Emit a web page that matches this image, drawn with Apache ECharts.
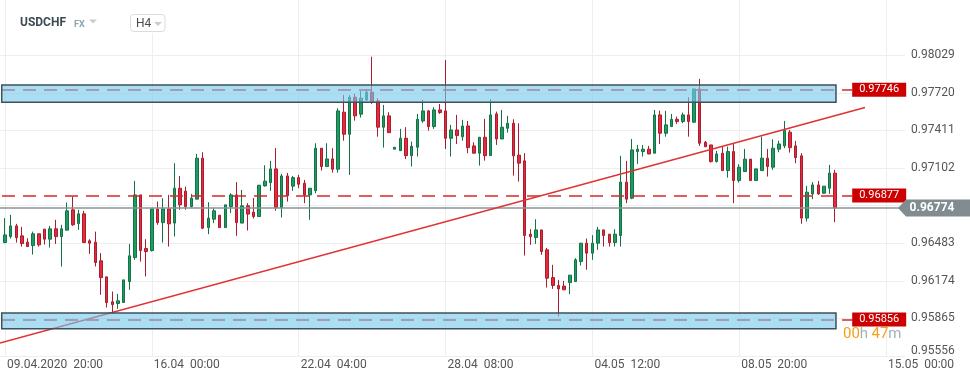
<!DOCTYPE html>
<html><head><meta charset="utf-8">
<script src="https://cdn.jsdelivr.net/npm/echarts@6/dist/echarts.min.js"></script>
<style>html,body{margin:0;padding:0;background:#fff}#c{width:970px;height:381px}</style>
</head><body><div id="c"></div><script>
// ---- data (H4 candles, USDCHF) ----
const opens = [0.96489,0.96538,0.96626,0.96544,0.96492,0.96464,0.96561,0.96599,0.96517,0.96602,
0.96538,0.96591,0.96758,0.96645,0.96725,0.96503,0.96492,0.96339,0.96207,0.96002,
0.95988,0.95996,0.96168,0.96366,0.96881,0.96440,0.96423,0.96766,0.96653,0.96766,
0.96649,0.96936,0.96912,0.96785,0.96846,0.97183,0.96612,0.96681,0.96714,0.96612,
0.96785,0.96881,0.96649,0.96791,0.96739,0.96703,0.96955,0.96982,0.97095,0.96777,
0.97037,0.96953,0.97023,0.96977,0.96881,0.96916,0.97265,0.97114,0.97177,0.97092,
0.97561,0.97380,0.97684,0.97545,0.97662,0.97725,0.97654,0.97438,0.97531,0.97257,
0.97245,0.97347,0.97204,0.97273,0.97489,0.97572,0.97443,0.97580,0.97572,0.97347,
0.97415,0.97360,0.97448,0.97284,0.97224,0.97355,0.97204,0.97547,0.97341,0.97429,
0.97470,0.97208,0.97161,0.96558,0.96530,0.96593,0.96429,0.96201,0.96136,0.96131,
0.96160,0.96168,0.96333,0.96484,0.96402,0.96484,0.96593,0.96558,0.96489,0.96547,
0.96986,0.96854,0.97237,0.97237,0.97257,0.97224,0.97539,0.97388,0.97443,0.97503,
0.97484,0.97539,0.97479,0.97752,0.97314,0.97292,0.97155,0.97224,0.97081,0.97237,
0.96999,0.97073,0.97175,0.96999,0.97081,0.97183,0.97109,0.97257,0.97284,0.97397,
0.97284,0.97202,0.96690,0.96889,0.96963,0.96895,0.96936,0.97060];
const closes = [0.96552,0.96626,0.96530,0.96481,0.96456,0.96561,0.96470,0.96517,0.96602,0.96538,
0.96602,0.96750,0.96635,0.96725,0.96489,0.96484,0.96325,0.96201,0.95996,0.95979,
0.96010,0.96182,0.96380,0.96881,0.96423,0.96415,0.96766,0.96653,0.96766,0.96643,
0.96936,0.96799,0.96785,0.96854,0.97183,0.96607,0.96690,0.96750,0.96612,0.96799,
0.96881,0.96653,0.96791,0.96723,0.96703,0.96961,0.96994,0.97095,0.96777,0.97037,
0.96875,0.97023,0.96969,0.96881,0.96936,0.97265,0.97114,0.97177,0.97092,0.97572,
0.97380,0.97684,0.97531,0.97676,0.97725,0.97643,0.97438,0.97531,0.97393,0.97273,
0.97347,0.97204,0.97281,0.97503,0.97572,0.97443,0.97580,0.97558,0.97347,0.97415,
0.97369,0.97448,0.97270,0.97224,0.97355,0.97204,0.97539,0.97341,0.97438,0.97470,
0.97202,0.97142,0.96547,0.96538,0.96593,0.96415,0.96196,0.96136,0.96108,0.96100,
0.96221,0.96347,0.96484,0.96402,0.96484,0.96593,0.96547,0.96489,0.96558,0.96986,
0.96846,0.97251,0.97257,0.97257,0.97218,0.97539,0.97388,0.97457,0.97503,0.97484,
0.97539,0.97484,0.97752,0.97306,0.97278,0.97155,0.97218,0.97081,0.97237,0.96999,
0.97109,0.97175,0.96999,0.97095,0.97183,0.97114,0.97265,0.97300,0.97410,0.97270,
0.97188,0.96690,0.96903,0.96963,0.96889,0.96953,0.97060,0.96774];
const highs = [0.96690,0.96717,0.96643,0.96618,0.96525,0.96579,0.96561,0.96602,0.96626,0.96676,
0.96635,0.96818,0.96867,0.96758,0.96750,0.96517,0.96579,0.96402,0.96207,0.96086,
0.96067,0.96182,0.96478,0.96996,0.96881,0.96517,0.96766,0.96826,0.96854,0.96881,
0.97142,0.97037,0.96949,0.96889,0.97218,0.97232,0.96821,0.96772,0.96714,0.96799,
0.96895,0.96986,0.96922,0.96813,0.96856,0.96961,0.97125,0.97161,0.97267,0.97054,
0.97062,0.97037,0.97046,0.97004,0.96936,0.97306,0.97265,0.97306,0.97265,0.97594,
0.97703,0.97703,0.97711,0.97736,0.97752,0.98018,0.97676,0.97621,0.97561,0.97273,
0.97424,0.97438,0.97319,0.97547,0.97662,0.97580,0.97602,0.97629,0.97991,0.97457,
0.97539,0.97498,0.97489,0.97314,0.97355,0.97506,0.97668,0.97566,0.97580,0.97531,
0.97503,0.97470,0.97224,0.96599,0.96681,0.96593,0.96445,0.96306,0.96182,0.96174,
0.96221,0.96361,0.96484,0.96522,0.96550,0.96618,0.96593,0.96558,0.96599,0.97202,
0.97161,0.97341,0.97292,0.97292,0.97284,0.97580,0.97574,0.97572,0.97547,0.97525,
0.97558,0.97684,0.97752,0.97835,0.97325,0.97292,0.97243,0.97278,0.97278,0.97300,
0.97134,0.97259,0.97175,0.97095,0.97360,0.97259,0.97339,0.97327,0.97489,0.97415,
0.97325,0.97224,0.96955,0.96986,0.96996,0.96953,0.97128,0.97087];
const lows = [0.96484,0.96522,0.96489,0.96456,0.96456,0.96390,0.96456,0.96473,0.96448,0.96478,
0.96292,0.96591,0.96626,0.96593,0.96489,0.96396,0.96292,0.96059,0.95955,0.95903,
0.95944,0.95996,0.96100,0.96347,0.96333,0.96210,0.96415,0.96635,0.96489,0.96456,
0.96538,0.96758,0.96758,0.96777,0.96846,0.96599,0.96558,0.96649,0.96612,0.96612,
0.96731,0.96544,0.96649,0.96588,0.96686,0.96703,0.96949,0.96914,0.96750,0.96695,
0.96826,0.96914,0.96936,0.96813,0.96676,0.96895,0.97081,0.97114,0.97064,0.97064,
0.97327,0.97046,0.97492,0.97517,0.97656,0.97629,0.97360,0.97270,0.97393,0.97257,
0.97245,0.97175,0.97114,0.97196,0.97475,0.97410,0.97424,0.97547,0.97259,0.97196,
0.97300,0.97327,0.97224,0.97224,0.97122,0.97163,0.97204,0.97292,0.97341,0.97393,
0.97040,0.96990,0.96382,0.96470,0.96478,0.96388,0.96119,0.96108,0.95881,0.96100,
0.96065,0.96168,0.96300,0.96265,0.96347,0.96429,0.96456,0.96456,0.96456,0.96456,
0.96813,0.96846,0.97136,0.97196,0.97216,0.97224,0.97300,0.97360,0.97443,0.97465,
0.97470,0.97360,0.97475,0.97284,0.97273,0.97147,0.97147,0.97081,0.97023,0.96813,
0.96982,0.97073,0.96999,0.96999,0.97081,0.97032,0.97087,0.97232,0.97265,0.97229,
0.97142,0.96643,0.96662,0.96846,0.96881,0.96889,0.96889,0.96657];
const xTickIndex = [0, 26, 52, 78, 104, 130, 156];
const xTickLabels = ['09.04.2020  20:00','16.04  00:00','22.04  04:00','28.04  08:00','04.05  12:00','08.05  20:00','15.05  00:00'];
const yTicks = [0.95556, 0.958651, 0.961743, 0.964834, 0.967925, 0.971016, 0.974108, 0.977199, 0.98029];
const yLabelTicks = [0.95556, 0.958651, 0.961743, 0.964834, 0.971016, 0.974108, 0.977199, 0.98029];
const lastPrice = 0.96774;
const levelLines = [0.97746, 0.96877, 0.95856];
const bands = [[0.97785, 0.97643], [0.95909, 0.95780]];
const trendLine = [[-0.885, 0.95663], [152.27, 0.97600]];

// ---- layout constants ----
const X_MIN = -0.885, X_MAX = 159.35;
const Y_MIN = 0.95556, Y_MAX = 0.98484;

const candles = opens.map((o, i) => [i, o, closes[i], lows[i], highs[i]]);
const FONT = 'Roboto';

const chart = echarts.init(document.getElementById('c'), null, {renderer: 'canvas'});
chart.setOption({
  animation: false,
  textStyle: {fontFamily: FONT},
  grid: {left: 0, right: 65, top: 0, bottom: 25, containLabel: false, outerBoundsMode: 'none'},
  xAxis: {
    type: 'value', min: X_MIN, max: X_MAX,
    axisLine: {show: false}, axisTick: {show: false, customValues: xTickIndex},
    splitLine: {show: true, lineStyle: {color: '#eeeeee', width: 1}},
    axisLabel: {
      customValues: xTickIndex, align: 'left', margin: 3, padding: [0, 0, 0, 2],
      color: '#555', fontSize: 12, fontFamily: FONT,
      formatter: v => xTickLabels[xTickIndex.indexOf(v)] || ''
    }
  },
  yAxis: {
    type: 'value', position: 'right', min: Y_MIN, max: Y_MAX,
    axisLine: {show: false}, axisTick: {show: false, customValues: yTicks},
    splitLine: {show: true, lineStyle: {color: '#eeeeee', width: 1}},
    axisLabel: {
      customValues: yLabelTicks, margin: 6, color: '#555', fontSize: 12, fontFamily: FONT,
      formatter: v => Math.abs(v - yTicks[0]) < 1e-7 ? '{b|' + v.toFixed(5) + '}' : v.toFixed(5),
      rich: {b: {padding: [0, 0, 10, 0], color: '#555', fontSize: 12, fontFamily: FONT}}
    }
  },
  series: [
    {
      type: 'candlestick', z: 2, barWidth: 3, data: candles,
      encode: {x: 0, y: [1, 2, 3, 4]},
      itemStyle: {color: '#1e9b63', color0: '#e32b3d', borderColor: '#137347', borderColor0: '#a91d2c', borderWidth: 1}
    },
    {
      type: 'line', z: 3, data: [], silent: true,
      markLine: {
        z: 4, silent: true, animation: false, symbol: ['none', 'none'],
        data: [
          ...levelLines.map(v => [
            {coord: [-0.53, v], lineStyle: {color: '#d42a2a', width: 1.5, type: [13, 8]},
             label: {show: true, position: 'end', distance: 0, formatter: v.toFixed(5), backgroundColor: '#cc0000',
                     color: '#fff', padding: [2, 7, 1, 7], fontSize: 11, fontFamily: FONT}},
            {coord: [150, v]}
          ]),
          [{coord: [X_MIN, lastPrice], lineStyle: {color: '#86939a', width: 1.5, type: 'solid'}, label: {show: false}},
           {coord: [X_MAX, lastPrice]}],
          [{coord: trendLine[0], lineStyle: {color: '#e03232', width: 1.5, type: 'solid'}, label: {show: false}},
           {coord: trendLine[1]}]
        ]
      }
    },
    {
      type: 'line', z: 4, data: [], silent: true,
      markArea: {
        z: 6, silent: true, animation: false,
        itemStyle: {color: 'rgba(120,200,235,0.62)', borderColor: '#3e505c', borderWidth: 1.5},
        label: {show: false},
        data: bands.map(b => [{coord: [-0.58, b[0]]}, {coord: [147.13, b[1]]}])
      }
    },
    {
      type: 'line', z: 6, data: [], silent: true,
      markPoint: {
        z: 8, silent: true, animation: false,
        data: [{
          coord: [X_MAX, lastPrice],
          symbol: 'path://M0,8.5L8,0L72,0L72,17L8,17Z', symbolSize: [72, 17], symbolKeepAspect: false,
          symbolOffset: [29, 0],
          itemStyle: {color: '#808c90'},
          label: {show: true, position: 'inside', offset: [-2, 0], formatter: lastPrice.toFixed(5),
                  color: '#fff', fontWeight: 'bold', fontSize: 12, fontFamily: FONT}
        }]
      }
    }
  ],
  graphic: [
    {type: 'rect', z: 10, shape: {x: 124, y: 0, width: 48, height: 33}, style: {fill: '#fff'}},
    {type: 'text', z: 11, x: 20, y: 17, style: {text: 'USDCHF', font: 'bold 12px Roboto', fill: '#3d4a52'}},
    {type: 'text', z: 11, x: 74, y: 20, style: {text: 'FX', font: 'bold 9px Roboto', fill: '#8ea2af'}},
    {type: 'polygon', z: 11, shape: {points: [[89, 19.5], [97, 19.5], [93, 23.5]]}, style: {fill: '#c8cdd1'}},
    {type: 'rect', z: 11, shape: {x: 130.5, y: 14.5, width: 34.5, height: 17, r: 3}, style: {fill: '#fff', stroke: '#dcdcdc', lineWidth: 1}},
    {type: 'text', z: 12, x: 136, y: 17.5, style: {text: 'H4', font: '12px Roboto', fill: '#4a4a4a'}},
    {type: 'polygon', z: 12, shape: {points: [[154, 22], [162, 22], [158, 26]]}, style: {fill: '#c8cdd1'}},
    {type: 'text', z: 12, x: 843, y: 327, style: {
      text: '{o|00}{g|h} {o|47}{g|m}',
      rich: {o: {fill: '#f5a01a', font: '15px Roboto'}, g: {fill: '#a9b0b4', font: '15px Roboto'}}
    }}
  ]
});
</script></body></html>
